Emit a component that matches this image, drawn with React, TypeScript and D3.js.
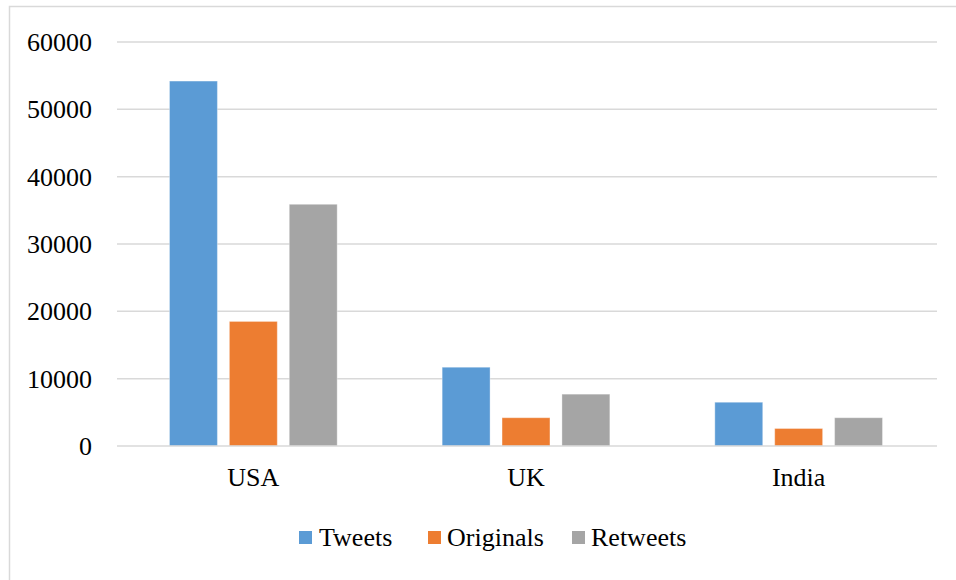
import React from "react";
import * as d3 from "d3";

// Tweet counts by country
const countries = ["USA", "UK", "India"];
const seriesNames = ["Tweets", "Originals", "Retweets"];
const tweets = [54200, 11700, 6500];
const originals = [18500, 4200, 2600];
const retweets = [35900, 7700, 4200];
const yTicks = [0, 10000, 20000, 30000, 40000, 50000, 60000];
const seriesColors = ["#5B9BD5", "#ED7D31", "#A5A5A5"];

const W = 956;
const H = 580;
const plot = { left: 117, right: 935, top: 42, bottom: 446 };
const FONT = "'Liberation Serif', 'Times New Roman', serif";

export default function App() {
  const seriesValues = [tweets, originals, retweets];

  const x0 = d3
    .scaleBand<string>()
    .domain(countries)
    .range([plot.left, plot.right])
    .padding(0);
  const groupWidth = x0.bandwidth() * 0.615;
  const x1 = d3
    .scaleBand<string>()
    .domain(seriesNames)
    .range([(x0.bandwidth() - groupWidth) / 2, (x0.bandwidth() + groupWidth) / 2])
    .paddingInner(0.2)
    .paddingOuter(0);
  const y = d3.scaleLinear().domain([0, 60000]).range([plot.bottom, plot.top]);

  const legendItems = [
    { name: "Tweets", sq: 299, tx: 319 },
    { name: "Originals", sq: 428, tx: 447 },
    { name: "Retweets", sq: 572, tx: 591 },
  ];

  return (
    <svg
      width={W}
      height={H}
      style={{ position: "absolute", left: 0, top: 0, background: "#fff" }}
      fontFamily={FONT}
    >
      <rect x={0} y={0} width={W} height={H} fill="#fff" />
      {/* chart frame */}
      <rect x={9.5} y={6.5} width={W + 10} height={H + 10} fill="none" stroke="#D9D9D9" strokeWidth={1.5} />

      {/* gridlines */}
      {yTicks
        .filter((t) => t !== 0)
        .map((t) => (
          <line
            key={t}
            x1={plot.left}
            x2={plot.right + 2}
            y1={y(t)}
            y2={y(t)}
            stroke="#D9D9D9"
            strokeWidth={1.5}
          />
        ))}

      {/* y tick labels */}
      {yTicks.map((t) => (
        <text
          key={"l" + t}
          x={92}
          y={y(t)}
          dy="0.35em"
          textAnchor="end"
          fontSize={26}
          fill="#000"
        >
          {t}
        </text>
      ))}

      {/* bars */}
      {countries.map((c, ci) => (
        <g key={c} transform={`translate(${x0(c)},0)`}>
          {seriesNames.map((s, si) => {
            const v = seriesValues[si][ci];
            return (
              <rect
                key={s}
                x={x1(s)}
                y={y(v)}
                width={x1.bandwidth()}
                height={y(0) - y(v)}
                fill={seriesColors[si]}
                stroke="#ffffff"
                strokeOpacity={0.35}
                strokeWidth={1}
              />
            );
          })}
        </g>
      ))}

      {/* baseline */}
      <line
        x1={plot.left}
        x2={plot.right + 2}
        y1={y(0)}
        y2={y(0)}
        stroke="#D9D9D9"
        strokeWidth={1.5}
      />

      {/* category labels */}
      {countries.map((c) => (
        <text
          key={"c" + c}
          x={(x0(c) as number) + x0.bandwidth() / 2}
          y={486}
          textAnchor="middle"
          fontSize={26}
          fill="#000"
        >
          {c}
        </text>
      ))}

      {/* legend */}
      {legendItems.map((it, i) => (
        <g key={it.name}>
          <rect x={it.sq} y={531} width={13} height={13} fill={seriesColors[i]} />
          <text x={it.tx} y={546} fontSize={26} fill="#000">
            {it.name}
          </text>
        </g>
      ))}
    </svg>
  );
}
